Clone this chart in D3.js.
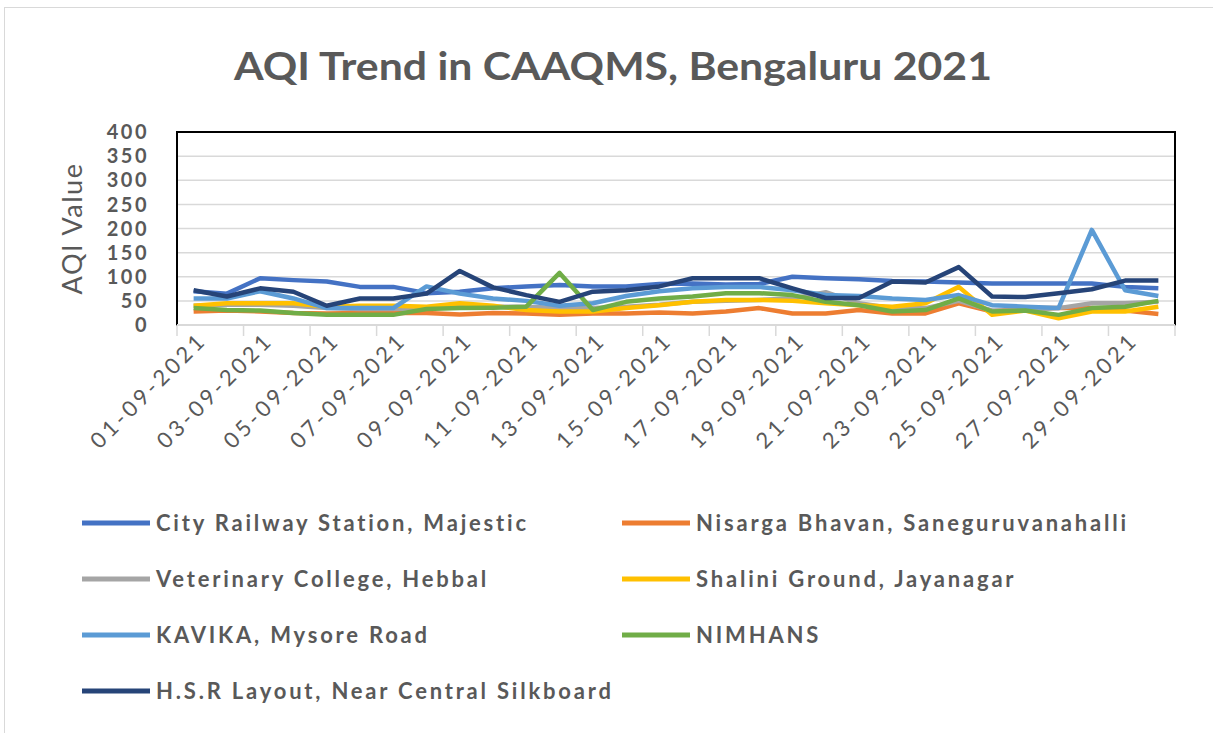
<!DOCTYPE html>
<html>
<head>
<meta charset="utf-8">
<script src="https://cdn.jsdelivr.net/npm/d3@7"></script>
<style>
  html, body { margin: 0; padding: 0; background: #fff; }
  svg { display: block; font-family: Lato, "Open Sans", sans-serif; }
</style>
</head>
<body>
<div id="chart"></div>
<script>
// days of September 2021
const days = d3.range(1, 31).map((d) => `${String(d).padStart(2, "0")}-09-2021`);
const yTicks = [0, 50, 100, 150, 200, 250, 300, 350, 400];

// AQI values, one array per station
const majestic = [70, 65, 97, 93, 90, 79, 79, 66, 69, 76, 80, 83, 80, 80, 85, 86, 84, 85, 100, 97, 95, 91, 90, 88, 86, 86, 86, 86, 79, 76];
const nisarga = [28, 30, 28, 25, 24, 25, 25, 25, 22, 25, 24, 21, 24, 24, 26, 24, 28, 35, 24, 24, 31, 24, 24, 45, 28, 35, 35, 35, 30, 23];
const hebbal = [40, 42, 42, 40, 35, 33, 33, 35, 38, 38, 38, 35, 35, 38, 42, 48, 50, 52, 55, 68, 45, 35, 35, 50, 30, 30, 35, 45, 45, 48];
const jayanagar = [40, 45, 45, 45, 38, 40, 40, 38, 45, 40, 31, 28, 28, 35, 41, 48, 52, 52, 50, 45, 41, 38, 45, 79, 21, 30, 14, 28, 28, 38];
const kavika = [55, 55, 70, 55, 35, 35, 35, 80, 65, 55, 50, 40, 45, 60, 70, 76, 79, 79, 72, 62, 60, 55, 52, 62, 41, 38, 35, 197, 72, 60];
const nimhans = [35, 31, 30, 25, 21, 21, 21, 33, 35, 36, 38, 108, 31, 48, 55, 59, 66, 66, 62, 48, 41, 28, 31, 55, 28, 30, 21, 35, 38, 50];
const hsr = [72, 59, 76, 69, 40, 55, 55, 65, 112, 78, 62, 48, 69, 72, 80, 97, 97, 97, 76, 56, 56, 90, 88, 120, 59, 58, 66, 74, 92, 92];

const series = [
  { name: "City Railway Station, Majestic", values: majestic, color: "#4472C4" },
  { name: "Nisarga Bhavan, Saneguruvanahalli", values: nisarga, color: "#ED7D31" },
  { name: "Veterinary College, Hebbal", values: hebbal, color: "#A5A5A5" },
  { name: "Shalini Ground, Jayanagar", values: jayanagar, color: "#FFC000" },
  { name: "KAVIKA, Mysore Road", values: kavika, color: "#5B9BD5" },
  { name: "NIMHANS", values: nimhans, color: "#70AD47" },
  { name: "H.S.R Layout, Near Central Silkboard", values: hsr, color: "#264478" }
];

const width = 1213;
const height = 733;
const plot = { left: 177, top: 132, right: 1175, bottom: 325 };
const textColor = "#595959";

const svg = d3.select("#chart").append("svg")
  .attr("width", width)
  .attr("height", height);

// chart area border
svg.append("rect")
  .attr("x", 4.5).attr("y", 7.5)
  .attr("width", width).attr("height", height)
  .attr("fill", "none")
  .attr("stroke", "#d9d9d9");

// title
svg.append("text")
  .attr("x", 613).attr("y", 80)
  .attr("text-anchor", "middle")
  .attr("font-size", "39px")
  .attr("font-weight", "bold")
  .attr("fill", textColor)
  .attr("textLength", 758)
  .attr("lengthAdjust", "spacingAndGlyphs")
  .text("AQI Trend in CAAQMS, Bengaluru 2021");

const x = d3.scaleBand().domain(days).range([plot.left, plot.right]).padding(0);
const y = d3.scaleLinear().domain([0, 400]).range([plot.bottom, plot.top]);
const cx = (d) => x(d) + x.bandwidth() / 2;

// gridlines
svg.append("g")
  .selectAll("line")
  .data(yTicks.filter((t) => t > 0 && t < 400))
  .join("line")
  .attr("x1", plot.left).attr("x2", plot.right)
  .attr("y1", (d) => y(d)).attr("y2", (d) => y(d))
  .attr("stroke", "#d9d9d9")
  .attr("stroke-width", 1.5);

// plot border
svg.append("rect")
  .attr("x", plot.left).attr("y", plot.top)
  .attr("width", plot.right - plot.left).attr("height", plot.bottom - plot.top)
  .attr("fill", "none")
  .attr("stroke", "#000")
  .attr("stroke-width", 2);

// x axis line and tick marks every 2 days
const tickEdges = d3.range(0, 31, 2).map((i) => (i < 30 ? x(days[i]) : plot.right));
svg.append("line")
  .attr("x1", plot.left).attr("x2", plot.right)
  .attr("y1", plot.bottom).attr("y2", plot.bottom)
  .attr("stroke", "#d9d9d9")
  .attr("stroke-width", 2);
svg.append("g")
  .selectAll("line")
  .data(tickEdges)
  .join("line")
  .attr("x1", (d) => d).attr("x2", (d) => d)
  .attr("y1", plot.bottom).attr("y2", plot.bottom + 11)
  .attr("stroke", "#d9d9d9")
  .attr("stroke-width", 1.5);

// x labels, every other day, rotated
svg.append("g")
  .selectAll("text")
  .data(days.filter((d, i) => i % 2 === 0))
  .join("text")
  .attr("transform", (d) => `translate(${cx(d) + 9},${plot.bottom + 11}) rotate(-45)`)
  .attr("text-anchor", "end")
  .attr("dy", "0.35em")
  .attr("font-size", "22px")
  .attr("letter-spacing", "3.5px")
  .attr("fill", textColor)
  .text((d) => d);

// y tick labels
svg.append("g")
  .selectAll("text")
  .data(yTicks)
  .join("text")
  .attr("x", 149)
  .attr("y", (d) => y(d))
  .attr("dy", "0.36em")
  .attr("text-anchor", "end")
  .attr("font-size", "20px")
  .attr("font-weight", "bold")
  .attr("letter-spacing", "2.5px")
  .attr("fill", textColor)
  .text((d) => d);

// y axis title
svg.append("text")
  .attr("transform", `translate(82,${(plot.top + plot.bottom) / 2}) rotate(-90)`)
  .attr("text-anchor", "middle")
  .attr("font-size", "27px")
  .attr("letter-spacing", "1.5px")
  .attr("fill", textColor)
  .text("AQI Value");

// lines
const line = d3.line()
  .x((d, i) => cx(days[i]))
  .y((d) => y(d));

svg.append("g")
  .selectAll("path")
  .data(series)
  .join("path")
  .attr("d", (d) => line(d.values))
  .attr("fill", "none")
  .attr("stroke", (d) => d.color)
  .attr("stroke-width", 4.5)
  .attr("stroke-linejoin", "round");

// legend, two columns
const legend = svg.append("g")
  .selectAll("g")
  .data(series)
  .join("g")
  .attr("transform", (d, i) => `translate(${i % 2 === 0 ? 82 : 622},${523 + Math.floor(i / 2) * 56})`);

legend.append("line")
  .attr("x1", 0).attr("x2", 68)
  .attr("stroke", (d) => d.color)
  .attr("stroke-width", 5);

legend.append("text")
  .attr("x", 74)
  .attr("dy", "0.36em")
  .attr("font-size", "22px")
  .attr("font-weight", "bold")
  .attr("letter-spacing", "2.8px")
  .attr("fill", textColor)
  .text((d) => d.name);
</script>
</body>
</html>
